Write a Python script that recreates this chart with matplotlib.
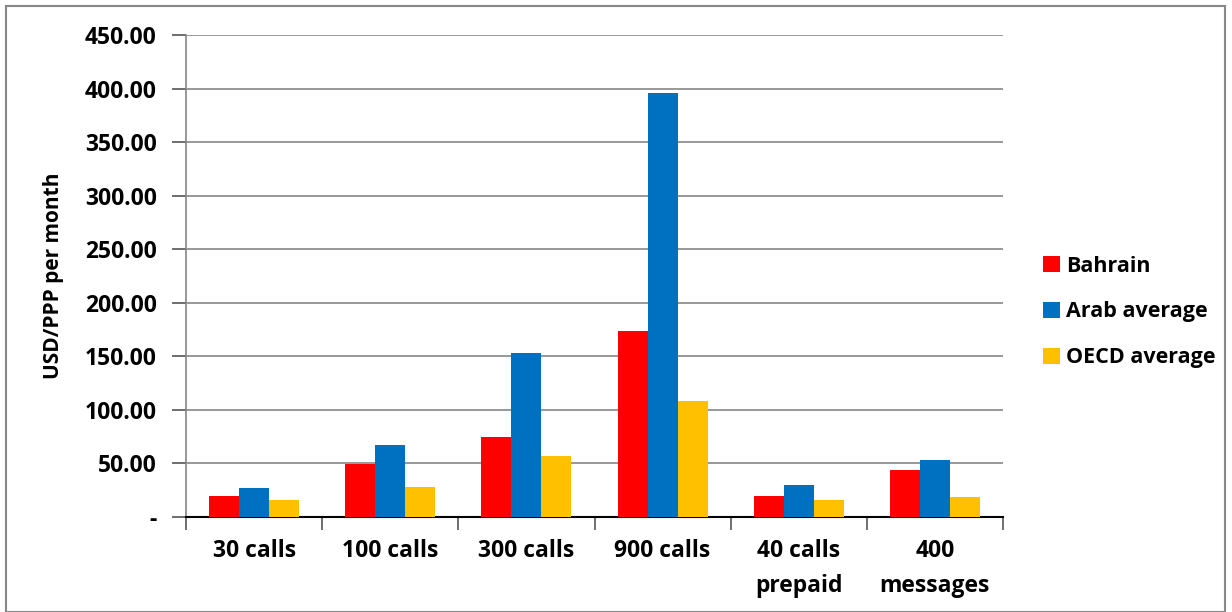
import numpy as np
import matplotlib.pyplot as plt
from matplotlib.ticker import FixedLocator, FuncFormatter

# Monthly mobile basket prices, USD/PPP
categories = ['30 calls', '100 calls', '300 calls', '900 calls', '40 calls\nprepaid', '400\nmessages']
bahrain = [19.9, 49.9, 74.9, 173.7, 19.9, 44.1]
arab_avg = [27.3, 67.4, 153.3, 395.6, 30.1, 53.4]
oecd_avg = [16.1, 28.3, 57.2, 108.5, 16.1, 18.9]

series = [('Bahrain', bahrain, '#FF0000'),
          ('Arab average', arab_avg, '#0070C0'),
          ('OECD average', oecd_avg, '#FFC000')]

plt.rcParams['font.family'] = ['Open Sans', 'DejaVu Sans']

fig = plt.figure(figsize=(12.32, 6.12), dpi=100)
ax = fig.add_axes([186 / 1232, 1 - 517 / 612, (1003 - 186) / 1232, (517 - 35) / 612])

x = np.arange(len(categories))
w = 0.22
for i, (name, vals, col) in enumerate(series):
    ax.bar(x + (i - 1) * w, vals, w, color=col, label=name, zorder=3)

ax.set_xlim(-0.5, len(categories) - 0.5)
ax.set_ylim(0, 450)
ax.set_yticks(np.arange(0, 451, 50))
ax.yaxis.set_major_formatter(FuncFormatter(lambda v, p: '-' if v == 0 else f'{v:.2f}'))
ax.grid(axis='y', color='#868686', linewidth=1.2, zorder=0)

# category labels centred, tick marks on the boundaries
ax.xaxis.set_major_locator(FixedLocator(np.arange(-0.5, len(categories), 1)))
ax.xaxis.set_major_formatter(FuncFormatter(lambda v, p: ''))
ax.xaxis.set_minor_locator(FixedLocator(x))
ax.set_xticklabels(categories, minor=True)
ax.tick_params(axis='x', which='major', length=9, width=1.2, color='#555555', direction='out')
ax.tick_params(axis='x', which='minor', length=0, pad=16, labelsize=16.5)
for lbl in ax.get_xticklabels(minor=True):
    lbl.set_fontweight('bold')
    lbl.set_linespacing(1.6)
ax.tick_params(axis='y', length=10, width=1.2, color='#555555', labelsize=16.5, pad=11)
for lbl in ax.get_yticklabels():
    lbl.set_fontweight('bold')

for s in ('top', 'right'):
    ax.spines[s].set_visible(False)
ax.spines['left'].set_color('#868686')
ax.spines['left'].set_linewidth(1.2)
ax.spines['bottom'].set_color('black')
ax.spines['bottom'].set_linewidth(1.5)

ax.set_ylabel('USD/PPP per month', fontsize=15, fontweight='bold', labelpad=15)

leg = ax.legend(loc='center left', bbox_to_anchor=(1024 / 1232, 1 - 312 / 612),
                bbox_transform=fig.transFigure, frameon=False, fontsize=15.5,
                handlelength=0.75, handleheight=0.75, handletextpad=0.3, labelspacing=1.15)
for t in leg.get_texts():
    t.set_fontweight('bold')

# outer chart border
fig.patches.append(plt.Rectangle((6 / 1232, 0), 1219 / 1232, 606 / 612, transform=fig.transFigure,
                                 fill=False, edgecolor='#888888', linewidth=1.5))

fig.savefig('out.png', dpi=100)
